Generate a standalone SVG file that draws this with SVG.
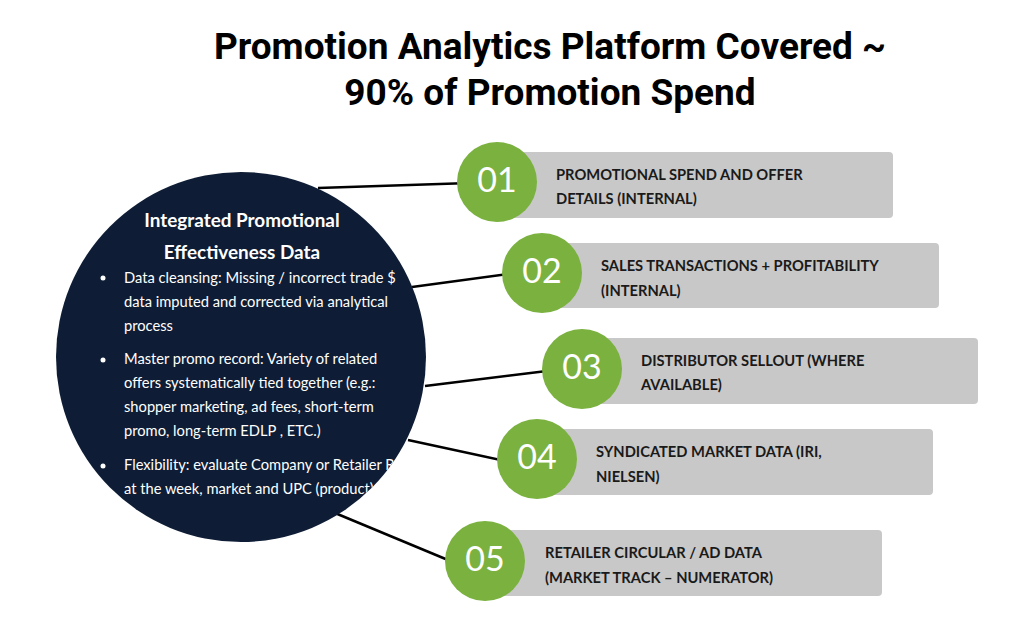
<svg xmlns="http://www.w3.org/2000/svg" width="1024" height="627" viewBox="0 0 1024 627">
<style>
.title{font-family:Roboto,"Liberation Sans",sans-serif;font-weight:700;font-size:37px;fill:#000;text-anchor:middle}
.hub{fill:#0e1d35}
.hubtitle{font-family:Lato,"Liberation Sans",sans-serif;font-weight:700;font-size:18.9px;fill:#fff;text-anchor:middle}
.body{font-family:Lato,"Liberation Sans",sans-serif;font-size:14.7px;fill:#fff}
.box{fill:#c8c8c8}
.num{fill:#7ab13f}
.numtxt{font-family:Lato,"Liberation Sans",sans-serif;font-size:34px;fill:#fff;text-anchor:middle}
.label{font-family:Lato,"Liberation Sans",sans-serif;font-weight:700;font-size:14.7px;fill:#1a1a1a}
.conn{stroke:#000;stroke-width:2.5;fill:none}
</style>
<defs>
<clipPath id="hubclip"><circle cx="241" cy="357" r="185"/></clipPath>
</defs>
<rect width="1024" height="627" fill="#fff"/>
<g id="title">
<text class="title" x="550" y="59">Promotion Analytics Platform Covered ~</text>
<text class="title" x="550" y="105">90% of Promotion Spend</text>
</g>
<g id="connectors">
<line class="conn" x1="318" y1="188" x2="470" y2="183"/>
<line class="conn" x1="412" y1="287" x2="515" y2="273"/>
<line class="conn" x1="425" y1="386" x2="555" y2="370"/>
<line class="conn" x1="408" y1="440" x2="510" y2="462"/>
<line class="conn" x1="335" y1="513" x2="460" y2="565"/>
</g>
<g id="hub">
<circle class="hub" cx="241" cy="357" r="185"/>
<text class="hubtitle" x="242" y="227">Integrated Promotional</text>
<text class="hubtitle" x="242" y="259">Effectiveness Data</text>
<g clip-path="url(#hubclip)">
<circle cx="103" cy="278" r="2.5" fill="#fff"/>
<text class="body" x="124" y="283">Data cleansing: Missing / incorrect trade $</text>
<text class="body" x="124" y="307">data imputed and corrected via analytical</text>
<text class="body" x="124" y="331">process</text>
<circle cx="103" cy="360" r="2.5" fill="#fff"/>
<text class="body" x="124" y="364">Master promo record: Variety of related</text>
<text class="body" x="124" y="388">offers systematically tied together (e.g.:</text>
<text class="body" x="124" y="412">shopper marketing, ad fees, short-term</text>
<text class="body" x="124" y="436">promo, long-term EDLP , ETC.)</text>
<circle cx="103" cy="466" r="2.5" fill="#fff"/>
<text class="body" x="124" y="470">Flexibility: evaluate Company or Retailer R</text>
<text class="body" x="124" y="494">at the week, market and UPC (product) l</text>
</g>
</g>
<g id="item01">
<rect class="box" x="500" y="152" width="393" height="66" rx="4"/>
<circle class="num" cx="497" cy="182" r="40"/>
<text class="numtxt" x="497" y="192">01</text>
<text class="label" x="556" y="180">PROMOTIONAL SPEND AND OFFER</text>
<text class="label" x="556" y="204">DETAILS (INTERNAL)</text>
</g>
<g id="item02">
<rect class="box" x="545" y="243" width="394" height="65" rx="4"/>
<circle class="num" cx="542" cy="273" r="40"/>
<text class="numtxt" x="542" y="283">02</text>
<text class="label" x="601" y="271">SALES TRANSACTIONS + PROFITABILITY</text>
<text class="label" x="601" y="296">(INTERNAL)</text>
</g>
<g id="item03">
<rect class="box" x="585" y="338" width="393" height="66" rx="4"/>
<circle class="num" cx="582" cy="369" r="40"/>
<text class="numtxt" x="582" y="379">03</text>
<text class="label" x="641" y="366">DISTRIBUTOR SELLOUT (WHERE</text>
<text class="label" x="641" y="390">AVAILABLE)</text>
</g>
<g id="item04">
<rect class="box" x="540" y="429" width="393" height="66" rx="4"/>
<circle class="num" cx="537" cy="459" r="40"/>
<text class="numtxt" x="537" y="469">04</text>
<text class="label" x="596" y="457">SYNDICATED MARKET DATA (IRI,</text>
<text class="label" x="596" y="482">NIELSEN)</text>
</g>
<g id="item05">
<rect class="box" x="490" y="530" width="392" height="66" rx="4"/>
<circle class="num" cx="485" cy="561" r="40"/>
<text class="numtxt" x="485" y="571">05</text>
<text class="label" x="545" y="558">RETAILER CIRCULAR / AD DATA</text>
<text class="label" x="545" y="583">(MARKET TRACK – NUMERATOR)</text>
</g>
</svg>
